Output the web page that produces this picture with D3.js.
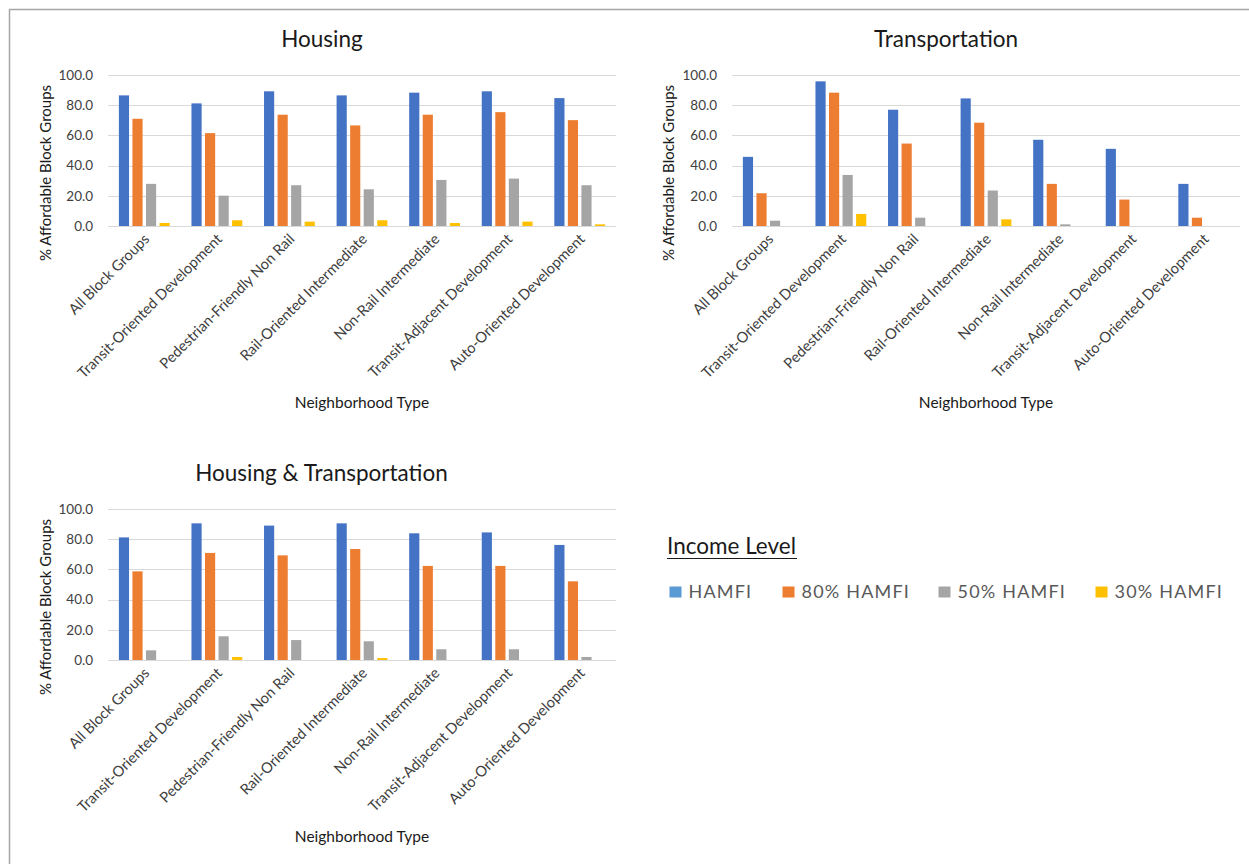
<!DOCTYPE html>
<html>
<head>
<meta charset="utf-8">
<script src="https://cdn.jsdelivr.net/npm/d3@7"></script>
<style>
  html, body { margin: 0; padding: 0; background: #fff; }
  svg { display: block; font-family: Lato, "Open Sans", sans-serif; }
</style>
</head>
<body>
<svg id="chart" width="1249" height="864"></svg>
<script>
// Neighborhood types along each category axis
const categories = [
  "All Block Groups",
  "Transit-Oriented Development",
  "Pedestrian-Friendly Non Rail",
  "Rail-Oriented Intermediate",
  "Non-Rail Intermediate",
  "Transit-Adjacent Development",
  "Auto-Oriented Development"
];

// Income levels (series) and their colours
const seriesNames = ["HAMFI", "80% HAMFI", "50% HAMFI", "30% HAMFI"];
const seriesColors = ["#4472C4", "#ED7D31", "#A5A5A5", "#FFC000"];
const legendColors = ["#5B9BD5", "#ED7D31", "#A5A5A5", "#FFC000"];

// % affordable block groups, one row per income level
const housingValues = [
  [86.5, 81.2, 89.2, 86.5, 88.3, 89.2, 84.7],
  [71.0, 61.5, 73.7, 66.6, 73.7, 75.4, 70.1],
  [27.9, 20.1, 27.0, 24.3, 30.5, 31.4, 27.0],
  [2.0, 3.8, 2.9, 3.8, 2.0, 2.9, 1.1]
];
const transportationValues = [
  [45.8, 95.8, 77.0, 84.5, 57.1, 51.1, 27.9],
  [21.7, 88.3, 54.6, 68.4, 27.9, 17.5, 5.5],
  [3.5, 33.8, 5.5, 23.5, 1.1, 0, 0],
  [0, 8.0, 0, 4.4, 0, 0, 0]
];
const combinedValues = [
  [81.2, 90.5, 89.0, 90.5, 83.9, 84.5, 76.2],
  [58.7, 70.9, 69.3, 73.5, 62.3, 62.3, 52.1],
  [6.4, 15.7, 13.2, 12.4, 7.1, 7.1, 2.0],
  [0, 2.0, 0, 1.3, 0, 0, 0]
];

const yTicks = [0, 20, 40, 60, 80, 100];

const svg = d3.select("#chart");

// outer frame
svg.append("path")
  .attr("d", "M9.5,864 V9.5 H1249")
  .attr("fill", "none")
  .attr("stroke", "#a6a6a6")
  .attr("stroke-width", 1.5);

const panels = [
  { title: "Housing", values: housingValues,
    plot: [108, 616], y: [226, 75],
    titleX: 322, titleY: 47, yTitleX: 46, tickX: 93, xTitleY: 408 },
  { title: "Transportation", values: transportationValues,
    plot: [732, 1240], y: [226, 75],
    titleX: 946, titleY: 47, yTitleX: 669, tickX: 717, xTitleY: 408 },
  { title: "Housing & Transportation", values: combinedValues,
    plot: [108, 616], y: [660, 509],
    titleX: 321.5, titleY: 481, yTitleX: 46, tickX: 93, xTitleY: 842 }
];

panels.forEach(p => {
  const g = svg.append("g");

  const x = d3.scaleBand().domain(categories).range(p.plot)
    .paddingInner(0.3).paddingOuter(0.15);
  const xs = d3.scaleBand().domain(seriesNames).range([0, x.bandwidth()])
    .paddingInner(0.25);
  const y = d3.scaleLinear().domain([0, 100]).range(p.y);

  // horizontal gridlines
  g.selectAll("line.grid").data(yTicks).join("line")
    .attr("x1", p.plot[0]).attr("x2", p.plot[1])
    .attr("y1", d => Math.round(y(d)) + 0.5).attr("y2", d => Math.round(y(d)) + 0.5)
    .attr("stroke", "#d9d9d9").attr("stroke-width", 1);

  // value axis labels
  const yAxis = d3.axisLeft(y).tickValues(yTicks).tickFormat(d3.format(".1f"))
    .tickSize(0).tickPadding(0);
  const ya = g.append("g").attr("transform", `translate(${p.tickX},0)`).call(yAxis);
  ya.select(".domain").remove();
  ya.selectAll("text")
    .attr("fill", "#404040").style("font-size", "13.5px")
    .style("font-family", "Lato, sans-serif");

  // bars
  seriesNames.forEach((s, i) => {
    g.selectAll(null)
      .data(p.values[i].map((v, k) => ({ v, c: categories[k] })).filter(d => d.v > 0))
      .join("rect")
      .attr("x", d => x(d.c) + xs(s))
      .attr("width", xs.bandwidth())
      .attr("y", d => y(d.v))
      .attr("height", d => y(0) - y(d.v))
      .attr("fill", seriesColors[i]);
  });

  // category labels, rotated
  const xa = g.append("g").attr("transform", `translate(0,${y(0)})`)
    .call(d3.axisBottom(x).tickSize(0).tickPadding(0));
  xa.select(".domain").remove();
  xa.selectAll(".tick text")
    .attr("fill", "#404040").style("font-size", "14.7px")
    .style("font-family", "Lato, sans-serif")
    .attr("text-anchor", "end")
    .attr("dy", null).attr("y", 0)
    .attr("transform", "translate(6,14) rotate(-45)");

  // chart title
  g.append("text").attr("x", p.titleX).attr("y", p.titleY)
    .attr("text-anchor", "middle").attr("fill", "#1a1a1a")
    .style("font-size", "22.5px").text(p.title);

  // axis titles
  g.append("text")
    .attr("transform", `translate(${p.yTitleX + 5},${p.y[1] + 98}) rotate(-90)`)
    .attr("text-anchor", "middle").attr("fill", "#1a1a1a")
    .style("font-size", "15px").text("% Affordable Block Groups");
  g.append("text").attr("x", (p.plot[0] + p.plot[1]) / 2).attr("y", p.xTitleY)
    .attr("text-anchor", "middle").attr("fill", "#1a1a1a")
    .style("font-size", "15.5px").text("Neighborhood Type");
});

// legend
const legend = svg.append("g");
legend.append("text").attr("x", 667).attr("y", 554)
  .attr("fill", "#1a1a1a").style("font-size", "22.5px").text("Income Level");
legend.append("line").attr("x1", 667).attr("x2", 797)
  .attr("y1", 558.5).attr("y2", 558.5).attr("stroke", "#1a1a1a").attr("stroke-width", 1.2);

const legendX = [669.5, 782.5, 938.5, 1095.5];
seriesNames.forEach((s, i) => {
  legend.append("rect").attr("x", legendX[i]).attr("y", 586.5)
    .attr("width", 12).attr("height", 11).attr("fill", legendColors[i]);
  legend.append("text").attr("x", legendX[i] + 19).attr("y", 598)
    .attr("fill", "#595959").style("font-size", "18px")
    .style("letter-spacing", "1.2px").text(s);
});
</script>
</body>
</html>
